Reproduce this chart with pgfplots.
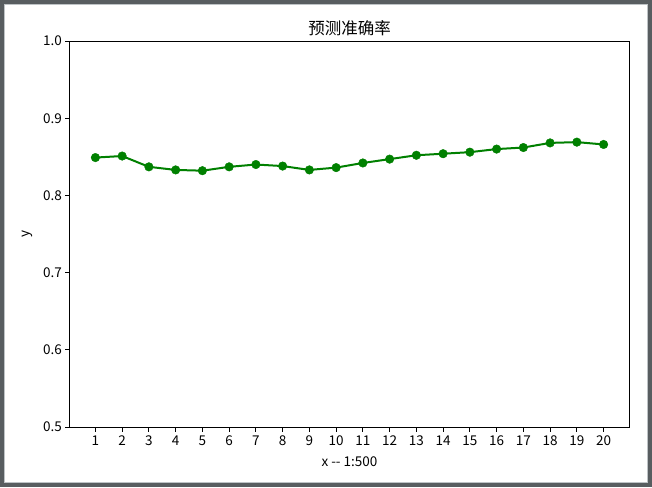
\documentclass[border=0pt]{standalone}
\usepackage{pgfplots}
\pgfplotsset{compat=1.18}
\usepackage{fontspec}
\setmainfont{Noto Sans CJK SC}
\definecolor{framegray}{RGB}{88,93,96}
\definecolor{framelight}{RGB}{190,195,198}
\definecolor{mplgreen}{RGB}{0,128,0}
\begin{document}
\begin{tikzpicture}[x=1pt,y=1pt]
\fill[framegray] (-70,-60) rectangle (582,427);
\fill[white] (-66,-56) rectangle (578,423);
\draw[framelight, line width=1pt] (-65.5,-55.5) rectangle (577.5,422.5);
\begin{axis}[
  at={(0,0)}, anchor=south west,
  scale only axis, width=559pt, height=386pt,
  xmin=0.05, xmax=20.95, ymin=0.5, ymax=1.0,
  xtick={1,...,20},
  ytick={0.5,0.6,0.7,0.8,0.9,1.0},
  yticklabel style={/pgf/number format/.cd, fixed, fixed zerofill, precision=1},
  /pgf/number format/assume math mode=true,
  tick align=outside, major tick length=4.5pt,
  xtick pos=bottom, ytick pos=left,
  tick style={black, line width=1pt},
  axis line style={line width=1pt},
  ticklabel style={font=\fontsize{13.5}{15}\selectfont},
  xticklabel style={yshift=-1pt},
  title={预测准确率}, title style={font=\fontsize{16.5}{18}\selectfont, yshift=-4pt},
  xlabel={x {-}{-} 1:500}, ylabel={y},
  label style={font=\fontsize{13.5}{15}\selectfont},
  xlabel style={yshift=-4pt},
  ylabel style={yshift=4pt},
]
\addplot[mplgreen, line width=2pt, mark=*, mark size=4.3pt, mark options={solid, fill=mplgreen, draw=mplgreen, line width=0.4pt}] coordinates {
(1,0.849) (2,0.851) (3,0.837) (4,0.833) (5,0.832) (6,0.837) (7,0.840) (8,0.838) (9,0.833) (10,0.836)
(11,0.842) (12,0.847) (13,0.852) (14,0.854) (15,0.856) (16,0.860) (17,0.862) (18,0.868) (19,0.869) (20,0.866)
};
\end{axis}
\end{tikzpicture}
\end{document}
